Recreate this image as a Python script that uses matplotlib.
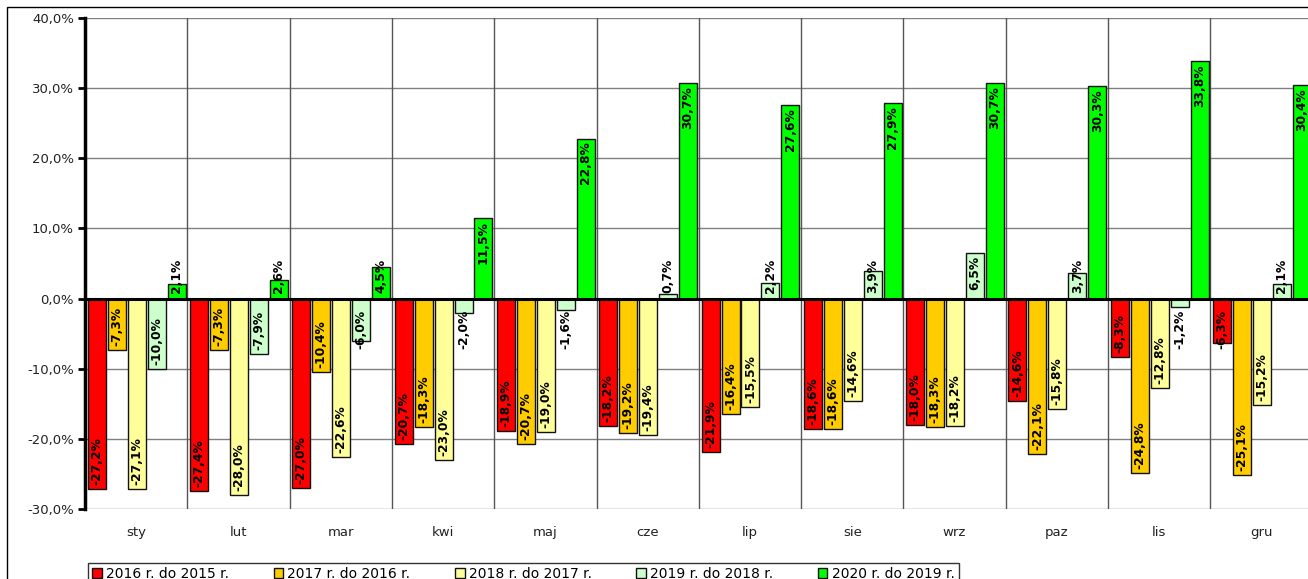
import numpy as np
import matplotlib.pyplot as plt
from matplotlib.patches import Rectangle

# --- Data ---
months = ["sty", "lut", "mar", "kwi", "maj", "cze", "lip", "sie", "wrz", "paz", "lis", "gru"]
series_names = [
    "2016 r. do 2015 r.",
    "2017 r. do 2016 r.",
    "2018 r. do 2017 r.",
    "2019 r. do 2018 r.",
    "2020 r. do 2019 r.",
]
v2016 = [-27.2, -27.4, -27.0, -20.7, -18.9, -18.2, -21.9, -18.6, -18.0, -14.6, -8.3, -6.3]
v2017 = [-7.3, -7.3, -10.4, -18.3, -20.7, -19.2, -16.4, -18.6, -18.3, -22.1, -24.8, -25.1]
v2018 = [-27.1, -28.0, -22.6, -23.0, -19.0, -19.4, -15.5, -14.6, -18.2, -15.8, -12.8, -15.2]
v2019 = [-10.0, -7.9, -6.0, -2.0, -1.6, 0.7, 2.2, 3.9, 6.5, 3.7, -1.2, 2.1]
v2020 = [2.1, 2.6, 4.5, 11.5, 22.8, 30.7, 27.6, 27.9, 30.7, 30.3, 33.8, 30.4]
colors = ["#FF0000", "#FFCC00", "#FFFF99", "#CCFFCC", "#00FF00"]

all_series = [v2016, v2017, v2018, v2019, v2020]

W, H = 1308, 579
fig = plt.figure(figsize=(W / 100, H / 100), dpi=100)
ax = fig.add_axes([85 / W, 1 - 509 / H, (1308 - 85) / W, (509 - 18) / H])

x = np.arange(len(months))
step = 0.195
bw = 0.176

bars_all = []
for i, (vals, col, name) in enumerate(zip(all_series, colors, series_names)):
    bars = ax.bar(x + (i - 2) * step + 0.005, vals, width=bw, color=col,
                  edgecolor="#111111", linewidth=1.0, label=name, zorder=3)
    bars_all.append((bars, vals))

ax.set_xlim(-0.5, -0.5 + (1308 - 85) / 102.3)
ax.set_ylim(-30, 40)

# grid
for k in range(11):
    ax.axvline(k + 0.5, color="#555555", lw=1.0, zorder=1)
ax.set_yticks(np.arange(-30, 41, 10))
ax.set_yticklabels([f"{t:.1f}%".replace(".", ",") for t in np.arange(-30, 41, 10)],
                   fontsize=9.5, color="#222222")
ax.yaxis.grid(True, color="#808080", lw=1.0, zorder=1)
ax.axhline(0, color="black", lw=2.2, zorder=4)
ax.set_xticks(x)
ax.set_xticklabels(months, fontsize=9.5, color="#222222")
ax.tick_params(axis="x", length=0, pad=12)
ax.tick_params(axis="y", length=5, width=2, direction="out", pad=3)
for s in ["top", "right", "bottom"]:
    ax.spines[s].set_visible(False)
ax.spines["left"].set_linewidth(2.5)
ax.set_axisbelow(True)

# data labels: inside end when they fit, otherwise a fixed spot near zero
fig.canvas.draw()
renderer = fig.canvas.get_renderer()
px_per_unit = ax.bbox.height / 70.0
for bars, vals in bars_all:
    for b, v in zip(bars, vals):
        cx = b.get_x() + b.get_width() / 2
        lab = f"{v:.1f}%".replace(".", ",")
        t = ax.text(cx, v, lab, rotation=90, ha="center", fontsize=8.8,
                    fontweight="bold", zorder=5)
        h = t.get_window_extent(renderer).height
        if h + 8 < abs(v) * px_per_unit:
            if v < 0:
                t.set_va("bottom")
                t.set_y(v + 4 / px_per_unit)
            else:
                t.set_va("top")
                t.set_y(v - 3 / px_per_unit)
        else:
            t.set_va("bottom")
            if v < 0:
                t.set_y(-50 / px_per_unit)
            else:
                t.set_y(6 / px_per_unit)

# outer chart border
fig.patches.append(Rectangle((7 / W, -0.1), 1.2, 1 - 7 / H + 0.1,
                             transform=fig.transFigure, fill=False,
                             edgecolor="black", lw=1.0))

leg = fig.legend(loc="upper left", bbox_to_anchor=(88 / W, 1 - 563 / H),
                 ncol=5, fontsize=10, frameon=True, fancybox=False,
                 edgecolor="black", handlelength=0.7, handleheight=0.7,
                 handletextpad=0.3, columnspacing=3.2, borderpad=0.3,
                 borderaxespad=0)
leg.get_frame().set_linewidth(1.0)

fig.savefig("out.png", dpi=100)
